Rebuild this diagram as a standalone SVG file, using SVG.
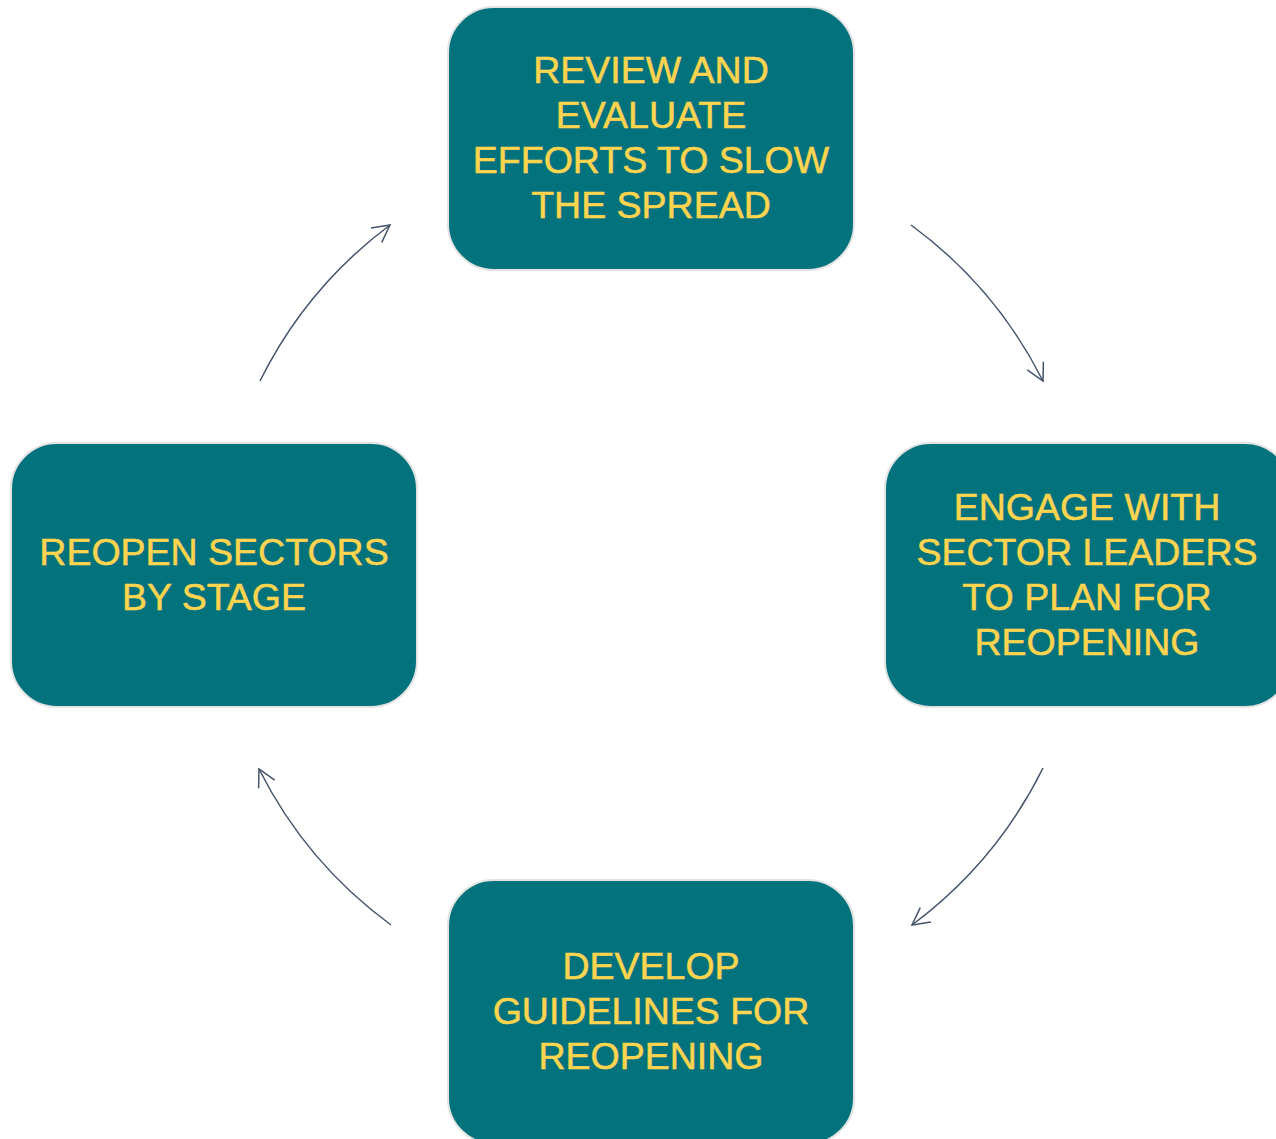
<svg xmlns="http://www.w3.org/2000/svg" width="1276" height="1139" viewBox="0 0 1276 1139">
<style>
.box{fill:#02737D;stroke:#E3E3E3;stroke-width:2}
.lbl{fill:#FFD44F;stroke:#FFD44F;stroke-width:0.5;font-family:"Liberation Sans",Arial,sans-serif;font-size:37.5px;text-anchor:middle}
.conn{fill:none;stroke:#44546A;stroke-width:1.5}
</style>
<defs>
<marker id="arr" markerUnits="userSpaceOnUse" markerWidth="40" markerHeight="40" viewBox="-20 -20 40 40" refX="0" refY="0" orient="auto">
<path d="M -17 -9 L 0 0 L -17 9" fill="none" stroke="#44546A" stroke-width="1.5"/>
</marker>
</defs>
<rect width="1276" height="1139" fill="#FFFFFF"/>
<g id="connectors">
<path class="conn" d="M 911 225 A 437 437 0 0 1 1043 381" marker-end="url(#arr)"/>
<path class="conn" d="M 1043 768 A 437 437 0 0 1 912 925" marker-end="url(#arr)"/>
<path class="conn" d="M 391 925 A 437 437 0 0 1 259 769" marker-end="url(#arr)"/>
<path class="conn" d="M 260 381 A 437 437 0 0 1 390 225" marker-end="url(#arr)"/>
</g>
<g id="node-review">
<rect class="box" x="448" y="7" width="406" height="263" rx="46"/>
<text class="lbl" x="651" y="83">REVIEW AND</text>
<text class="lbl" x="651" y="128">EVALUATE</text>
<text class="lbl" x="651" y="173">EFFORTS TO SLOW</text>
<text class="lbl" x="651" y="218">THE SPREAD</text>
</g>
<g id="node-engage">
<rect class="box" x="885" y="443" width="406" height="264" rx="46"/>
<text class="lbl" x="1087" y="520">ENGAGE WITH</text>
<text class="lbl" x="1087" y="565">SECTOR LEADERS</text>
<text class="lbl" x="1087" y="610">TO PLAN FOR</text>
<text class="lbl" x="1087" y="655">REOPENING</text>
</g>
<g id="node-develop">
<rect class="box" x="448" y="880" width="406" height="264" rx="46"/>
<text class="lbl" x="651" y="979">DEVELOP</text>
<text class="lbl" x="651" y="1024">GUIDELINES FOR</text>
<text class="lbl" x="651" y="1069">REOPENING</text>
</g>
<g id="node-reopen">
<rect class="box" x="11" y="443" width="406" height="264" rx="46"/>
<text class="lbl" x="214" y="565">REOPEN SECTORS</text>
<text class="lbl" x="214" y="610">BY STAGE</text>
</g>
</svg>
